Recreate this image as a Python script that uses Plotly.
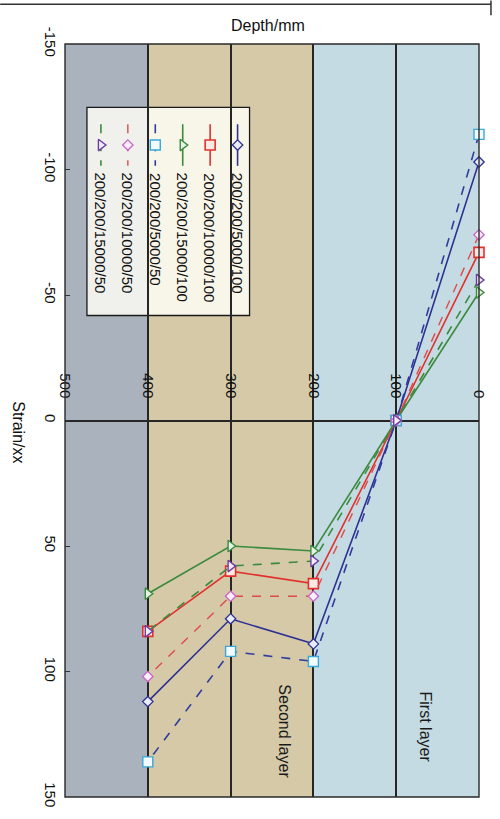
import plotly.graph_objects as go

# ---- data -------------------------------------------------------------
depth_mm = [0, 100, 200, 300, 400]

series_names = [
    "200/200/5000/100",
    "200/200/10000/100",
    "200/200/15000/100",
    "200/200/5000/50",
    "200/200/10000/50",
    "200/200/15000/50",
]

strain_5000_100 = [-103, 0, 89, 79, 112]
strain_10000_100 = [-67, 0, 65, 60, 84]
strain_15000_100 = [-51, 0, 52, 50, 69]
strain_5000_50 = [-114, 0, 96, 92, 136]
strain_10000_50 = [-74, 0, 70, 70, 102]
strain_15000_50 = [-56, 0, 56, 58, 84]

strain_ticks = [-150, -100, -50, 0, 50, 100, 150]
depth_ticks = [0, 100, 200, 300, 400, 500]

# pavement layers shown as shaded depth bands
layer_bands = [(500, 400), (400, 200), (200, 0)]
layer_labels = ["Second layer", "First layer"]
layer_label_depth = [235, 65]
layer_label_strain = [124, 122]

# ---- styling ----------------------------------------------------------
W, H = 500, 819
ML, MR, MT, MB = 65, 20, 44, 15
FONT = "Liberation Sans, Arial, sans-serif"

band_colors = ["#a9b2bd", "#d5c9a7", "#c5dbe3"]

styles = [
    dict(line=dict(color="#2e3192", width=1.6, dash="solid"),
         marker=dict(symbol="diamond", size=8, color="#e8ecf8",
                     line=dict(color="#2e3192", width=1.3))),
    dict(line=dict(color="#e2312c", width=1.6, dash="solid"),
         marker=dict(symbol="square", size=10, color="#fbe9e6",
                     line=dict(color="#e2312c", width=1.6))),
    dict(line=dict(color="#3b8a3e", width=1.6, dash="solid"),
         marker=dict(symbol="triangle-right", size=10, color="#e6f3e4",
                     line=dict(color="#3b8a3e", width=1.4))),
    dict(line=dict(color="#2f3c9c", width=1.6, dash="dash"),
         marker=dict(symbol="square", size=10, color="#f2fbff",
                     line=dict(color="#3aa8d8", width=1.4))),
    dict(line=dict(color="#e04a4a", width=1.4, dash="dash"),
         marker=dict(symbol="diamond", size=8, color="#fbeefb",
                     line=dict(color="#c865c8", width=1.3))),
    dict(line=dict(color="#3b8a3e", width=1.6, dash="dash"),
         marker=dict(symbol="triangle-right", size=10, color="#f1ecf8",
                     line=dict(color="#6b3fa0", width=1.4))),
]

all_series = [strain_5000_100, strain_10000_100, strain_15000_100,
              strain_5000_50, strain_10000_50, strain_15000_50]

fig = go.Figure()

for name, vals, st in zip(series_names, all_series, styles):
    fig.add_trace(go.Scatter(
        x=depth_mm, y=vals, name=name, mode="lines+markers",
        line=st["line"], marker=st["marker"], showlegend=False,
        cliponaxis=False,
    ))

# ---- helpers: pixel position -> paper fraction -------------------------
PW, PH = W - ML - MR, H - MT - MB


def px(xp):
    return (xp - ML) / PW


def py(yp):
    return 1 - (yp - MT) / PH


shapes = []
for (d0, d1), col in zip(layer_bands, band_colors):
    shapes.append(dict(type="rect", xref="x", yref="paper", x0=d0, x1=d1,
                       y0=0, y1=1, fillcolor=col, line=dict(width=0),
                       layer="below"))

# plot frame
shapes.append(dict(type="rect", xref="paper", yref="paper", x0=0, x1=1,
                   y0=0, y1=1, line=dict(color="#2a2a2a", width=1.4),
                   layer="above"))
# outer page rule at the top
shapes.append(dict(type="line", xref="paper", yref="paper",
                   x0=px(0), x1=px(492), y0=py(4), y1=py(4),
                   line=dict(color="#333", width=1.5)))
shapes.append(dict(type="line", xref="paper", yref="paper",
                   x0=px(492), x1=px(492), y0=py(0), y1=py(15),
                   line=dict(color="#333", width=1.5)))

# legend box (rotated legend drawn on an overlay axis in pixel units);
# sits above the grid but below the legend samples
LEG_X0, LEG_X1, LEG_Y0, LEG_Y1 = 87, 250, 108, 318
shapes.append(dict(type="rect", xref="paper", yref="paper",
                   x0=px(LEG_X0), x1=px(LEG_X1), y0=py(LEG_Y1), y1=py(LEG_Y0),
                   fillcolor="rgba(255,255,248,0.82)",
                   line=dict(color="#1a1a1a", width=1.3), layer="between"))

annotations = []
col_x = [238, 210.5, 183, 155.5, 128, 101]
for i, (name, st) in enumerate(zip(series_names, styles)):
    cx = col_x[i]
    fig.add_trace(go.Scatter(
        x=[cx, cx], y=[125, 167], mode="lines", line=st["line"],
        xaxis="x2", yaxis="y2", showlegend=False, hoverinfo="skip",
        cliponaxis=False))
    fig.add_trace(go.Scatter(
        x=[cx], y=[146], mode="markers", marker=st["marker"],
        xaxis="x2", yaxis="y2", showlegend=False, hoverinfo="skip",
        cliponaxis=False))
    annotations.append(dict(
        xref="paper", yref="paper", x=px(cx), y=py(172), text=name,
        showarrow=False, textangle=90, xanchor="center", yanchor="top",
        font=dict(family=FONT, size=15, color="#111")))

for lab, d, s in zip(layer_labels, layer_label_depth, layer_label_strain):
    annotations.append(dict(
        xref="x", yref="y", x=d, y=s, text=lab, showarrow=False,
        textangle=90, xanchor="center", yanchor="middle",
        font=dict(family=FONT, size=16, color="#1a1a1a")))

annotations.append(dict(
    xref="paper", yref="paper", x=px(268), y=py(25), text="Depth/mm",
    showarrow=False, xanchor="center", yanchor="middle",
    font=dict(family=FONT, size=16, color="#111")))
annotations.append(dict(
    xref="paper", yref="paper", x=px(18), y=py(436), text="Strain/xx",
    showarrow=False, textangle=90, xanchor="center", yanchor="middle",
    font=dict(family=FONT, size=16, color="#111")))

fig.update_layout(
    width=W, height=H,
    margin=dict(l=ML, r=MR, t=MT, b=MB, pad=0),
    paper_bgcolor="white", plot_bgcolor="white",
    font=dict(family=FONT, size=15, color="#111"),
    showlegend=False,
    xaxis=dict(
        range=[500, 0], tickvals=depth_ticks,
        ticktext=[str(v) for v in depth_ticks],
        anchor="free", position=0.5, side="top",
        tickangle=90, ticks="", ticklabelstandoff=20,
        showgrid=True, gridcolor="#262626", gridwidth=1.5,
        showline=False, zeroline=False,
        tickfont=dict(family=FONT, size=15, color="#111"),
    ),
    yaxis=dict(
        range=[150, -150], tickvals=strain_ticks,
        ticktext=[str(v) for v in strain_ticks],
        tickangle=90, ticks="inside", ticklen=5, tickcolor="#333",
        ticklabelstandoff=4,
        showgrid=False, zeroline=True, zerolinecolor="#262626",
        zerolinewidth=1.5, showline=False,
        tickfont=dict(family=FONT, size=15, color="#111"),
    ),
    xaxis2=dict(range=[ML, W - MR], overlaying="x", anchor="y2",
                visible=False, fixedrange=True),
    yaxis2=dict(range=[H - MB, MT], overlaying="y", anchor="x2",
                visible=False, fixedrange=True),
    shapes=shapes,
    annotations=annotations,
)

fig.write_html("out.html", config={"displayModeBar": False})
